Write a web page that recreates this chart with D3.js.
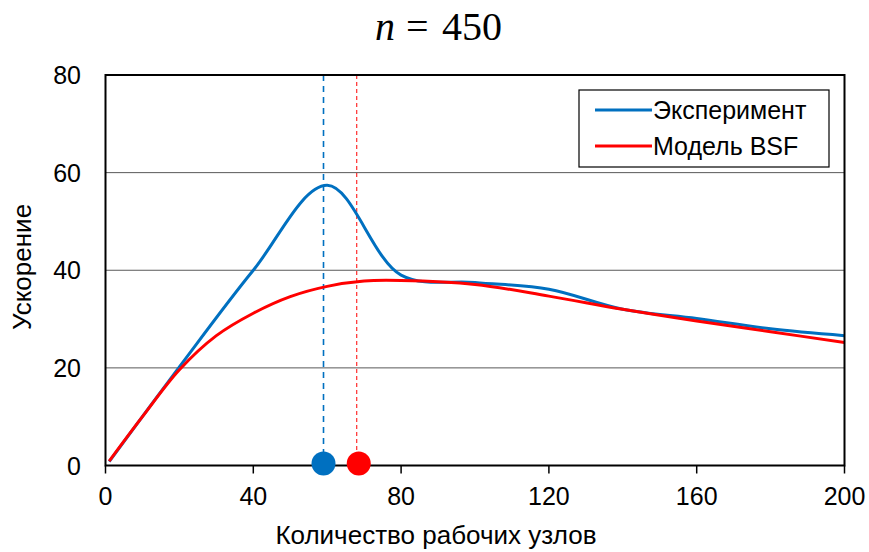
<!DOCTYPE html>
<html lang="ru">
<head>
<meta charset="UTF-8">
<title>n = 450</title>
<script src="https://d3js.org/d3.v7.min.js"></script>
<style>
  body { margin: 0; background: #fff; }
  text { font-family: "Liberation Sans", Arial, sans-serif; fill: #000; }
</style>
</head>
<body>
<svg id="chart" width="869" height="552"></svg>
<script>
// experiment (blue) and BSF model (red)
const expX = [1, 20, 40, 60, 80, 100, 120, 140, 160, 180, 200];
const expY = [0.8, 20.2, 40, 57.4, 39, 37.5, 36.1, 32, 30.1, 28, 26.6];
const modelX = [1, 10, 20, 30, 40, 50, 60, 70, 80, 100, 120, 140, 160, 180, 200];
const modelY = [0.9, 10, 19.6, 26.6, 31.2, 34.6, 36.7, 37.8, 37.9, 37.1, 34.7, 32, 29.6, 27.4, 25.2];
const expPeak = 59;
const modelPeak = 68;
const xTicks = [0, 40, 80, 120, 160, 200];
const yTicks = [0, 20, 40, 60, 80];
const seriesNames = ["Эксперимент", "Модель BSF"];
const colors = ["#0070C0", "#FF0000"];

const svg = d3.select("#chart");
const plotL = 105.5, plotR = 844.5, plotT = 75, plotB = 465.5;
const x = d3.scaleLinear().domain([0, 200]).range([plotL, plotR]);
const y = d3.scaleLinear().domain([0, 80]).range([plotB, plotT]);

// gridlines
svg.append("g").selectAll("line")
  .data(yTicks.filter(d => d > 0 && d < 80))
  .join("line")
  .attr("x1", plotL).attr("x2", plotR)
  .attr("y1", d => y(d)).attr("y2", d => y(d))
  .attr("stroke", "#595959").attr("stroke-width", 1);

// dashed peak lines
svg.append("line")
  .attr("x1", x(expPeak)).attr("x2", x(expPeak))
  .attr("y1", plotT).attr("y2", plotB)
  .attr("stroke", colors[0]).attr("stroke-width", 1.6)
  .attr("stroke-dasharray", "6,5");
svg.append("line")
  .attr("x1", x(modelPeak)).attr("x2", x(modelPeak))
  .attr("y1", plotT).attr("y2", plotB)
  .attr("stroke", colors[1]).attr("stroke-width", 1)
  .attr("stroke-dasharray", "4,3");

// curves
const line = d3.line()
  .x(d => x(d[0])).y(d => y(d[1]))
  .curve(d3.curveCatmullRom.alpha(0.5));

svg.append("path")
  .datum(expX.map((v, i) => [v, expY[i]]))
  .attr("d", line)
  .attr("fill", "none").attr("stroke", colors[0]).attr("stroke-width", 3);
svg.append("path")
  .datum(modelX.map((v, i) => [v, modelY[i]]))
  .attr("d", line)
  .attr("fill", "none").attr("stroke", colors[1]).attr("stroke-width", 3);

// plot frame
svg.append("rect")
  .attr("x", plotL).attr("y", plotT)
  .attr("width", plotR - plotL).attr("height", plotB - plotT)
  .attr("fill", "none").attr("stroke", "#000").attr("stroke-width", 2);

// x axis ticks
const xAxis = svg.append("g");
xAxis.selectAll("line").data(xTicks).join("line")
  .attr("x1", d => x(d)).attr("x2", d => x(d))
  .attr("y1", plotB).attr("y2", plotB + 8)
  .attr("stroke", "#000").attr("stroke-width", 1.5);
xAxis.selectAll("text").data(xTicks).join("text")
  .attr("x", d => x(d)).attr("y", 505)
  .attr("text-anchor", "middle")
  .attr("font-size", 25)
  .text(d => d);

// y axis labels
svg.append("g").selectAll("text").data(yTicks).join("text")
  .attr("x", 81).attr("y", d => y(d) + 9)
  .attr("text-anchor", "end")
  .attr("font-size", 25)
  .text(d => d);

// peak markers
svg.append("circle").attr("cx", x(expPeak)).attr("cy", y(0) - 2).attr("r", 12).attr("fill", colors[0]);
svg.append("circle").attr("cx", x(modelPeak) + 2).attr("cy", y(0) - 2).attr("r", 12).attr("fill", colors[1]);

// axis titles
svg.append("text")
  .attr("x", 436).attr("y", 544)
  .attr("text-anchor", "middle")
  .attr("font-size", 26)
  .text("Количество рабочих узлов");
svg.append("text")
  .attr("transform", "translate(31,267) rotate(-90)")
  .attr("text-anchor", "middle")
  .attr("font-size", 26)
  .text("Ускорение");

// title
const title = svg.append("text")
  .attr("y", 40)
  .attr("font-size", 40)
  .style("font-family", "'Liberation Serif', 'Times New Roman', serif");
title.append("tspan").attr("x", 375).attr("font-style", "italic").text("n");
title.append("tspan").attr("x", 406).text("=");
title.append("tspan").attr("x", 442).text("450");

// legend
const lg = svg.append("g");
lg.append("rect")
  .attr("x", 579).attr("y", 90).attr("width", 250).attr("height", 77)
  .attr("fill", "#fff").attr("stroke", "#000").attr("stroke-width", 1.2);
seriesNames.forEach((name, i) => {
  const cy = 110 + i * 36;
  lg.append("line")
    .attr("x1", 595).attr("x2", 652).attr("y1", cy).attr("y2", cy)
    .attr("stroke", colors[i]).attr("stroke-width", 3);
  lg.append("text")
    .attr("x", 653).attr("y", cy + 9)
    .attr("font-size", 25)
    .text(name);
});
</script>
</body>
</html>
